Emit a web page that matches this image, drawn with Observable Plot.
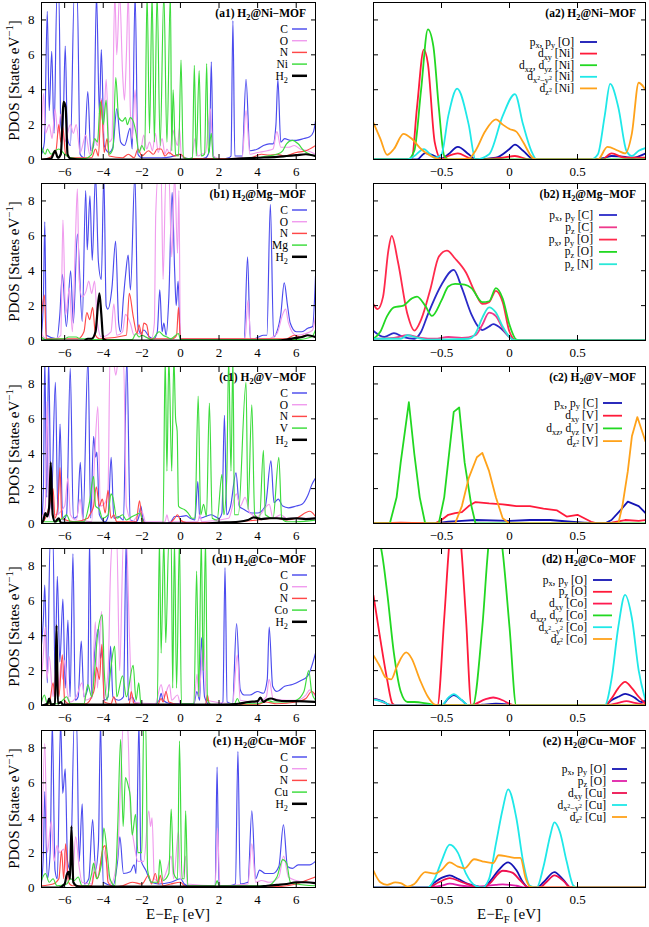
<!DOCTYPE html>
<html><head><meta charset="utf-8">
<script src="https://cdn.jsdelivr.net/npm/d3@7"></script>
<script src="https://cdn.jsdelivr.net/npm/@observablehq/plot@0.6"></script>
<style>
body{margin:0;background:#fff;}
#chart{position:relative;width:649px;height:927px;font-family:"Liberation Serif","Times New Roman",serif;background:#fff;}
</style></head><body><div id="chart"></div>
<script>
// ---------- categories / labels ----------
const metals = ["Ni","Mg","V","Co","Cu"];
const rowLetters = ["a","b","c","d","e"];
const leftXTicks = [-6,-4,-2,0,2,4,6];
const rightXTicks = [-0.5,0,0.5];
const yTicks = [0,2,4,6,8];
const leftLabels = m => ["C","O","N",m,"H_{2}"];

// ---------- (a1) Ni-MOF : [x, y, x, y, ...] ----------
const a1_C = [-7.2,0.3,-7.05,1,-6.9,8.5,-6.8,2.8,-6.67,6.2,-6.55,1.5,-6.4,9.5,-6.3,9.5,-6.2,2,-6.1,1.5,-5.97,6.5,-5.85,1.2,-5.7,0.8,-5.5,9.5,-5.35,9.5,-5.2,0.3,-5.0,0.1,-4.8,3.9,-4.65,0.5,-4.5,0.8,-4.35,9.5,-4.2,2.6,-4.1,6.3,-3.95,0.8,-3.7,0.4,-3.5,0.7,-3.3,2.9,-3.1,1.0,-2.9,0.8,-2.6,1.8,-2.5,0.6,-2.35,9.5,-2.2,0.3,-2.0,0.1,-1.5,0.1,-1.0,0.1,-0.5,0.15,0,0.3,0.2,0.1,0.6,0.05,1.0,0.05,1.3,0.1,1.5,0.5,1.6,5.6,1.7,0.2,2.0,0,2.5,0.1,2.62,0.2,2.72,7.95,2.82,0.2,3.2,0.2,3.4,4.6,3.6,0.5,4.0,0.6,4.3,0.8,4.6,0.9,4.8,0.9,4.95,2,5.05,4.6,5.2,1.0,5.4,1.2,5.7,1.1,6.0,1.1,6.4,1.2,6.7,1.3,6.9,1.6,7.0,2.2];
const a1_O = [-7.2,1.0,-7.1,3.8,-7.0,1.5,-6.8,2.0,-6.65,1.2,-6.5,2.9,-6.35,1.5,-6.2,2.6,-6.0,1.0,-5.7,2.0,-5.55,1.5,-5.4,2.0,-5.2,0.4,-4.9,1.4,-4.7,0.3,-4.45,1.2,-4.3,0.8,-4.1,3.5,-4.0,1.5,-3.85,4.6,-3.7,1.0,-3.55,1.2,-3.4,9.5,-3.3,6,-3.15,9.5,-3.0,5,-2.9,3.4,-2.8,6,-2.7,9.5,-2.6,3,-2.5,1.2,-2.35,4.0,-2.2,0.5,-2.05,0.6,-1.9,1.4,-1.75,0.6,-1.6,1.0,-1.45,0.5,-1.3,1.5,-1.15,0.4,-0.95,1.2,-0.8,0.3,-0.7,0.6,-0.55,0.3,-0.4,1.7,-0.3,1.3,-0.15,0.8,-0.05,1.8,0.05,0.2,0.3,0.05,0.6,0.1,0.75,1.2,0.9,0.2,1.1,0.3,1.3,0.4,1.55,2.9,1.7,0.2,2.0,0.05,3.2,0.1,3.4,2.8,3.6,0.3,4.0,0.4,4.5,0.5,4.8,0.6,5.0,1.6,5.2,0.7,5.6,0.7,5.9,0.8,6.2,0.6,6.6,0.5,7.0,0.3];
const a1_N = [-7.2,0,-6.8,0.1,-6.6,0.3,-6.45,0.5,-6.3,2.0,-6.2,1.0,-6.1,1.9,-5.95,0.3,-5.7,0.1,-4.6,0.1,-4.4,0.6,-4.25,0.2,-4.1,3.4,-3.95,0.4,-3.8,1.2,-3.7,0.2,-3.0,0.1,-2.7,0.3,-2.4,0.1,-2.2,0.6,-2.0,0.2,-1.65,0.5,-1.4,0.3,-1.2,0.6,-1.0,0.6,-0.8,0.2,-0.6,0.4,-0.3,0.2,0,0.3,0.3,0.05,3.5,0.05,4.2,0.3,4.6,0.25,5.0,0.3,5.4,0.2,6.0,0.4,6.5,0.5,7.0,0.8];
const a1_M = [-7.2,0.7,-7.0,0.3,-6.9,0.6,-6.7,0.3,-6.5,0.5,-6.3,0.6,-6.0,0.3,-5.7,0.1,-5.0,0.05,-4.6,0.3,-4.45,1.2,-4.3,1.0,-4.15,3.3,-4.0,2.0,-3.85,3.4,-3.7,0.3,-3.5,0.6,-3.35,4.7,-3.2,2.4,-3.0,2.2,-2.85,2.4,-2.75,2.0,-2.6,2.4,-2.45,2.2,-2.3,1.5,-2.15,0.4,-2.0,0.8,-1.85,0.5,-1.73,9.5,-1.6,1.5,-1.47,9.5,-1.35,1.0,-1.21,9.5,-1.05,0.8,-0.86,9.5,-0.7,1.0,-0.52,9.5,-0.45,0.5,-0.38,4.0,-0.25,0.3,-0.1,0.2,0.03,5.7,0.15,0.1,0.5,0.05,0.62,0.1,0.72,5.4,0.82,0.2,0.97,5.1,1.08,0.2,1.25,0.3,1.36,5.5,1.45,0.3,1.6,1.5,1.7,0.1,2.0,0,3.4,0.05,4.0,0.1,4.5,0.2,5.0,0.3,5.3,0.5,5.5,0.9,5.8,1.1,6.1,0.9,6.4,0.5,6.7,0.3,7.0,0.2];
const a1_H2 = [-7.2,0,-6.7,0.05,-6.5,0.5,-6.35,0.1,-6.2,0.3,-6.05,3.3,-5.95,3.0,-5.85,0.3,-5.7,0.05,-5.0,0,2.0,0,3.0,0.05,4.0,0.1,5.0,0.15,5.5,0.2,6.0,0.25,6.5,0.3,7.0,0.2];

// ---------- (b1) Mg-MOF ----------
const b1_C = [-7.2,0.3,-7.1,2.5,-7.03,6.8,-6.95,0.3,-6.4,0.1,-6.25,1.5,-6.12,3.8,-5.91,0.8,-5.69,4.0,-5.55,1.0,-5.34,6.1,-5.09,1.1,-4.91,8.6,-4.83,5.2,-4.69,8.3,-4.57,4.6,-4.4,9.5,-4.25,4.5,-4.1,3.5,-3.97,9.5,-3.85,2.0,-3.76,1.8,-3.55,3.0,-3.36,5.7,-3.2,1.0,-3.1,0.5,-2.95,2.5,-2.84,3.8,-2.71,4.9,-2.59,2.9,-2.36,9.5,-2.2,0.8,-2.05,0.4,-1.9,0.6,-1.6,0.2,-1.38,0.1,-1.2,0.5,-1.07,2.9,-0.95,0.5,-0.86,1.0,-0.74,0.3,-0.6,2.5,-0.43,8.5,-0.3,4.0,-0.22,2.0,-0.12,3.4,0,0.05,3.3,0.05,3.48,4.8,3.62,0.1,3.8,0.1,4.05,0.2,4.3,0.3,4.48,0.3,4.66,7.8,4.83,0.2,5.0,0.5,5.2,1.5,5.38,3.3,5.55,2.0,5.69,1.0,6.0,0.5,6.3,0.5,6.6,0.7,6.85,0.8,7.0,3.7];
const b1_O = [-7.2,0.5,-7.1,0.2,-6.9,0.1,-6.5,0.1,-6.2,0.3,-6.09,6.9,-5.95,1.5,-5.75,3.0,-5.6,0.5,-5.45,5.5,-5.34,8.7,-5.25,3.5,-5.1,2.5,-4.9,2.8,-4.75,3.4,-4.6,2.7,-4.45,3.4,-4.3,1.0,-4.1,0.2,-3.6,0.5,-3.45,2.1,-3.3,0.3,-3.0,0.5,-2.85,1.5,-2.6,1.0,-2.4,0.3,-2.2,0.4,-1.5,0.1,-1.35,1.0,-1.28,7.2,-1.15,9.5,-1.0,9.5,-0.9,3.5,-0.75,9.5,-0.6,9.5,-0.45,4.8,-0.3,9.5,-0.15,5.0,-0.08,8.6,0,0.1,3.35,0.1,3.5,2.3,3.65,0.1,4.5,0.1,5.0,0.4,5.3,1.5,5.45,1.8,5.6,1.0,6.0,0.3,6.5,0.4,6.85,0.6,7.0,1.4];
const b1_N = [-7.2,1.5,-7.05,2.6,-6.95,0.1,-6.0,0.1,-5.3,0.1,-5.0,0.5,-4.85,1.6,-4.7,1.2,-4.55,1.9,-4.4,0.3,-4.2,0.1,-2.8,0.3,-2.65,2.7,-2.45,1.4,-2.25,0.4,-2.15,0.9,-2.0,0.3,-1.9,1.0,-1.75,0.9,-1.6,0.1,-0.4,0.1,-0.2,0.3,-0.1,1.9,0,0.1,5.5,0.1,5.9,0.3,6.2,0.2,6.5,0.3,7.0,0.2];
const b1_M = [-7.2,0.2,-7.0,0.05,-6.2,0.1,-6.0,0.1,-5.8,0.2,-5.4,0.2,-5.2,0.1,-4.8,0.1,-4.5,0.05,-2.5,0.05,-2.3,0.4,-2.15,0.2,-2.0,0.3,-1.8,0.2,-1.5,0.05,-1.1,0.5,-0.9,0.3,-0.7,0.2,-0.5,0.1,-0.1,0.4,0,0.05,6.0,0.05,6.8,0.2,7.0,0.6];
const b1_H2 = [-7.2,0,-5.0,0,-4.8,0.1,-4.6,0.1,-4.4,0.5,-4.2,2.7,-4.1,1.5,-4.0,0.1,-3.8,0,5.0,0,5.5,0.05,6.0,0.15,6.3,0.2,6.6,0.3,7.0,0.2];

// ---------- (c1) V-MOF ----------
const c1_C = [-7.2,0,-7.1,2,-7.03,9.5,-6.93,1.5,-6.83,9.5,-6.7,0.8,-6.48,8.1,-6.35,0.5,-6.24,5.7,-6.1,0.2,-5.9,0.5,-5.71,8.9,-5.55,0.3,-5.35,0.4,-5.19,3.5,-5.05,0.2,-4.79,9.5,-4.65,0.3,-4.5,5.0,-4.4,3.8,-4.33,4.1,-4.2,0.5,-3.9,0.1,-3.75,0.4,-3.59,3.8,-3.45,0.3,-3.2,0.4,-2.95,0.2,-2.78,9.5,-2.6,0.2,-2.3,0.1,-2.15,0.4,-2.05,1.0,-1.95,0.3,-1.8,0,-0.8,0,-0.5,0.1,-0.3,0.4,0,0.4,0.3,0.45,0.5,0.3,0.75,0.2,0.9,2.4,1.0,0.3,1.3,0.4,1.6,0.5,2.0,0.3,2.15,0.6,2.28,6.2,2.4,0.5,2.6,1.0,2.88,2.9,3.05,1.0,3.3,0.8,3.7,0.6,4.0,0.6,4.4,1.0,4.69,3.6,4.85,1.2,5.07,1.4,5.3,1.0,5.6,0.9,6.0,1.0,6.3,1.1,6.6,1.6,6.8,2.2,7.0,2.6];
const c1_O = [-7.2,0.3,-7.0,1.0,-6.91,7.0,-6.8,0.3,-6.7,2.0,-6.5,0.5,-6.0,1.0,-5.83,2.6,-5.7,0.5,-5.4,0.2,-5.2,1.4,-5.05,0.2,-4.6,0.1,-4.45,3.7,-4.28,6.7,-4.15,1.0,-3.9,1.2,-3.75,2.0,-3.65,9.5,-3.5,9.5,-3.35,8.5,-3.2,9.5,-2.95,9.5,-2.8,1.0,-2.5,0.1,-2.2,0.5,-2.0,0.7,-1.8,0.1,-0.8,0.1,-0.7,0.5,-0.6,0.1,0.9,0.1,1.0,0.5,1.1,0.1,2.5,0.3,2.9,1.7,3.1,1.0,3.35,1.5,3.6,0.6,4.0,0.4,4.6,1.1,4.8,0.3,5.2,0.5,5.5,0.3,6.0,0.3,7.0,0.3];
const c1_N = [-7.2,0,-7.0,0.3,-6.8,1.0,-6.6,2.0,-6.5,0.3,-6.35,1.0,-6.24,3.2,-6.15,0.3,-5.5,0.1,-4.8,0.3,-4.7,0.5,-4.5,1.0,-4.36,2.1,-4.2,1.0,-4.05,1.4,-3.9,0.6,-3.75,1.9,-3.6,0.3,-3.45,0.5,-3.3,0.1,-2.3,0.1,-2.12,1.3,-2.0,0.3,-1.8,0,-0.6,0,-0.3,0.3,-0.15,0.5,0,0.2,0.3,0.05,2.5,0.05,3.0,0.1,4.0,0.2,5.0,0.3,5.5,0.2,6.0,0.3,6.7,0.7,7.0,0.4];
const c1_M = [-7.2,0.1,-6.5,0.1,-6.1,0.3,-5.9,0.5,-5.7,0.1,-5.0,0.1,-4.7,1.3,-4.5,2.7,-4.4,1.0,-4.2,0.8,-4.05,0.3,-3.75,0.5,-3.6,1.7,-3.5,1.5,-3.3,0.3,-3.0,0.5,-2.8,0.2,-2.5,0.4,-2.3,0.5,-2.1,0.6,-1.9,0,-0.9,0,-0.79,9.5,-0.7,3.0,-0.6,9.5,-0.45,3.0,-0.34,9.5,-0.25,6.0,-0.17,5.3,-0.1,1.0,0,0.9,0.2,0.8,0.4,0.6,0.6,0.3,0.75,0.3,0.92,7.3,1.05,0.5,1.2,1.1,1.35,0.4,1.5,6.9,1.65,0.3,1.9,0.2,2.15,2.8,2.25,0.5,2.4,2.6,2.5,9.5,2.62,3.0,2.72,9.5,2.8,0.5,3.0,0.5,3.4,8.1,3.5,0.8,3.7,6.8,3.85,0.5,4.1,0.3,4.3,4.2,4.4,0.5,4.8,0.3,5.1,3.8,5.25,0.3,5.5,0.1,6.0,0.1,7.0,0.2];
const c1_H2 = [-7.2,0,-7.1,0.2,-7.0,0.6,-6.9,0.4,-6.8,1.0,-6.72,3.5,-6.62,0.5,-6.5,0.1,-6.3,0.3,-6.2,0.05,1.0,0,2.0,0.05,3.0,0.1,3.5,0.2,3.8,0.35,4.2,0.25,4.6,0.3,5.0,0.3,5.5,0.25,6.0,0.3,6.5,0.25,7.0,0.3];

// ---------- (d1) Co-MOF ----------
const d1_C = [-7.2,3.5,-7.1,5.0,-7.03,6.9,-6.9,1.3,-6.75,9.5,-6.6,9.5,-6.5,1.5,-6.38,7.4,-6.25,2.5,-6.09,6.1,-5.97,1.0,-5.83,4.9,-5.72,0.5,-5.57,8.7,-5.45,0.3,-5.3,0.5,-5.14,3.7,-5.0,0.5,-4.8,1.0,-4.71,9.5,-4.6,0.4,-4.45,3.0,-4.24,4.4,-4.15,2.7,-4.05,3.2,-3.95,0.3,-3.75,0.5,-3.62,3.4,-3.5,0.5,-3.2,0.3,-2.95,0.5,-2.81,9.5,-2.7,0.3,-2.5,0.5,-2.3,0.1,-1.5,0,-1.1,0.3,-1.0,0.7,-0.9,0.3,-0.5,0.1,0,0.1,0.7,0.1,0.85,0.8,1.0,0.3,1.09,3.9,1.25,0.5,1.5,0.05,2.0,0.05,2.2,0.2,2.31,7.9,2.42,0.2,2.7,0.1,2.91,4.7,3.1,0.9,3.3,0.6,3.6,0.6,4.0,0.8,4.3,0.7,4.5,1.5,4.6,4.5,4.78,1.1,5.0,0.8,5.4,1.1,5.8,1.2,6.2,1.4,6.6,1.7,7.0,3.0];
const d1_O = [-7.2,1.5,-7.1,3.0,-7.0,4.5,-6.92,1.5,-6.8,2.8,-6.6,0.5,-6.45,2.3,-6.3,1.0,-6.2,2.4,-6.1,1.5,-6.0,2.6,-5.85,0.7,-5.7,0.2,-5.4,0.5,-5.1,1.3,-4.95,0.3,-4.6,0.5,-4.41,4.8,-4.3,1.0,-4.09,5.4,-3.95,0.5,-3.75,2.0,-3.62,7.8,-3.5,9.5,-3.3,9.5,-3.15,2.0,-2.95,9.5,-2.8,9.5,-2.64,3.9,-2.5,0.2,-1.3,0.1,-1.0,1.2,-0.85,0.5,-0.57,1.2,-0.45,0.3,-0.15,0.6,0,0.1,0.7,0.1,0.86,1.8,0.95,0.5,1.2,3.8,1.35,0.3,2.7,0.1,2.95,2.9,3.1,0.3,4.0,0.2,4.45,0.5,4.6,1.5,4.8,0.4,5.5,0.3,6.0,0.3,6.5,0.6,6.7,0.9,7.0,0.5];
const d1_N = [-7.2,0,-6.8,0.1,-6.6,1.3,-6.5,0.5,-6.4,2.4,-6.3,0.5,-6.12,2.9,-6.0,0.3,-5.8,0.1,-4.9,0.1,-4.6,0.5,-4.45,1.0,-4.35,2.2,-4.2,1.5,-4.07,3.5,-3.95,0.2,-3.6,0.1,-3.45,0.5,-3.3,0.05,-2.65,0.1,-2.55,0.8,-2.4,0.1,-1.2,0,-1.0,0.4,-0.9,0.2,-0.75,0.8,-0.6,0.2,0,0.05,1.3,0.05,1.4,0.6,1.5,0.05,4.0,0.05,4.4,0.2,5.0,0.1,6.0,0.2,6.5,0.4,6.8,0.8,7.0,0.6];
const d1_M = [-7.2,0.2,-7.05,0.6,-6.9,0.1,-6.3,0.1,-6.1,0.3,-5.9,0.5,-5.7,0.1,-5.0,0.1,-4.8,1.2,-4.6,0.5,-4.45,1.9,-4.3,4.0,-4.05,5.2,-3.95,2.0,-3.8,0.3,-3.6,2.2,-3.41,3.4,-3.3,0.5,-3.0,1.7,-2.8,0.5,-2.45,2.3,-2.3,0.3,-2.16,1.3,-2.05,0.1,-1.9,0,-1.2,0,-1.09,9.5,-1.0,3.0,-0.86,9.5,-0.76,3.6,-0.6,9.5,-0.48,9.5,-0.4,1.0,-0.31,9.5,-0.2,1.0,-0.05,9.5,0.05,0.1,0.7,0.1,0.84,7.7,0.95,0.5,1.08,9.5,1.18,2.0,1.3,9.5,1.4,0.3,1.6,0.05,2.8,0.1,2.95,0.4,3.1,0.1,4.0,0.1,4.5,0.3,4.8,0.2,5.5,0.2,6.0,0.3,6.4,0.8,6.65,2.0,6.8,0.8,7.0,0.3];
const d1_H2 = [-7.2,0,-6.9,0.1,-6.8,0.4,-6.7,0.05,-6.5,0.1,-6.42,4.6,-6.35,0.1,-6.2,0.2,-6.1,0.05,2.0,0.05,3.0,0.1,3.5,0.2,4.0,0.25,4.15,0.45,4.3,0.2,4.5,0.35,4.7,0.4,5.0,0.3,5.5,0.25,6.0,0.25,7.0,0.2];

// ---------- (e1) Cu-MOF ----------
const e1_C = [-7.2,0.3,-7.1,2.0,-7.03,5.5,-6.9,0.5,-6.75,2,-6.64,9.5,-6.5,1.0,-6.38,0.5,-6.21,9.5,-6.1,5.4,-5.97,6.8,-5.85,1.5,-5.7,1.0,-5.5,9.5,-5.38,9.5,-5.25,1.5,-5.09,4.8,-4.98,0.2,-4.75,0.5,-4.55,3.9,-4.4,1.0,-4.25,2.5,-4.14,9.5,-4.0,0.3,-3.5,0.1,-3.25,1.6,-3.14,2.9,-2.95,0.8,-2.6,0.9,-2.4,1.3,-2.3,0.8,-2.15,9.5,-2.05,1.6,-1.8,1.0,-1.5,0.3,-1.1,0.2,-0.5,0.3,0,0.5,0.2,0.2,0.5,0.05,1.7,0.05,1.8,0.1,1.9,6.9,2.0,0.1,2.5,0.1,2.85,0.2,2.98,7.8,3.1,0.2,3.5,0.3,3.7,4.4,3.9,0.5,4.1,1.0,4.4,0.8,4.8,0.8,5.1,1.2,5.34,3.6,5.55,1.2,5.8,1.1,6.1,1.3,6.4,1.3,6.7,1.3,7.0,1.5];
const e1_O = [-7.2,1.0,-7.03,8.25,-6.9,2.0,-6.69,3.8,-6.55,1.5,-6.4,2.4,-6.25,2.0,-6.05,2.2,-5.85,0.5,-5.6,0.5,-5.43,2.9,-5.25,1.2,-5.1,0.3,-4.6,0.2,-4.45,1.5,-4.3,0.5,-4.0,2.2,-3.85,1.5,-3.6,0.2,-3.25,2.0,-3.1,6.0,-2.95,9.5,-2.75,9.5,-2.6,4.5,-2.4,2.5,-2.2,1.5,-1.9,1.5,-1.64,4.4,-1.55,3.5,-1.47,4.0,-1.35,0.5,-1.0,0.3,-0.7,1.0,-0.48,1.8,-0.35,0.5,-0.1,3.2,0,0.5,0.1,0.5,0.26,1.8,0.35,0.2,1.8,0.1,1.92,3.4,2.05,0.1,3.5,0.2,3.7,2.5,3.9,0.3,4.2,0.4,4.6,0.3,5.1,0.6,5.35,1.8,5.6,0.6,6.0,0.4,6.5,0.3,7.0,0.3];
const e1_N = [-7.2,0.1,-6.6,0.2,-6.3,0.5,-6.16,2.1,-6.05,0.5,-5.95,2.5,-5.8,0.3,-5.6,0.1,-4.6,0.1,-4.45,0.9,-4.3,0.5,-4.0,2.3,-3.9,2.4,-3.75,0.3,-3.5,0.05,-3.0,0.1,-2.5,0.3,-2.0,0.2,-1.65,0.7,-1.5,0.2,-1.3,0.8,-1.15,0.2,-1.05,0.7,-0.9,0.1,-0.5,0.2,0,0.3,0.2,0.1,0.5,0,5.0,0.05,6.0,0.2,6.5,0.4,7.0,0.6];
const e1_M = [-7.2,0.4,-7.0,0.8,-6.8,0.3,-6.6,0.5,-6.4,0.1,-5.9,0.2,-5.7,0.5,-5.5,0.4,-5.3,0.6,-5.1,0.1,-4.8,0.1,-4.6,0.8,-4.5,1.4,-4.35,0.5,-4.1,1.3,-3.97,3.4,-3.8,2.0,-3.65,0.5,-3.4,0.1,-3.25,3.5,-3.1,8.5,-2.97,3.5,-2.85,6.3,-2.7,5.8,-2.6,5.2,-2.5,3.0,-2.33,4.2,-2.2,2.0,-2.0,2.0,-1.9,9.5,-1.8,9.5,-1.7,1.0,-1.5,0.3,-1.15,0.3,-1.07,1.6,-0.9,0.4,-0.6,0.8,-0.48,4.5,-0.35,0.8,-0.15,0.5,-0.05,8.4,0.08,0.5,0.2,0.5,0.27,4.4,0.38,0.1,1.8,0.1,1.9,0.4,2.0,0.1,4.5,0.1,5.0,0.6,5.3,1.6,5.5,1.4,5.7,0.3,6.0,0.2,7.0,0.1];
const e1_H2 = [-7.2,0,-6.3,0,-6.0,0.2,-5.9,0.7,-5.8,0.9,-5.72,0.5,-5.65,3.5,-5.55,0.3,-5.4,0.1,-5.2,0.05,4.0,0.05,4.5,0.1,5.0,0.15,5.5,0.2,6.0,0.3,6.5,0.3,7.0,0.25];

// ---------- right column (orbital-resolved) ----------
const a2_pxpyO = [-1,0,-0.68,0,-0.62,0.37,-0.55,0.2,-0.5,0.05,-0.45,0.3,-0.38,0.72,-0.3,0.3,-0.25,0,-0.1,0.1,0,0.6,0.04,0.85,0.1,0.5,0.18,0,0.6,0,0.7,0.1,0.75,0.2,0.85,0.15,0.9,0.1,1.0,0.35];
const a2_dxy = [-1,0,-0.72,0,-0.68,3.0,-0.63,6.3,-0.6,5.5,-0.55,1.0,-0.5,0,-0.45,0.2,-0.38,0.35,-0.3,0.1,-0.25,0,-0.05,0.1,0.04,0.2,0.15,0,0.68,0,0.75,0.35,0.85,0.1,1.0,0.1];
const a2_dxz = [-1,0,-0.75,0,-0.7,0.5,-0.65,4.0,-0.6,7.46,-0.56,6.5,-0.52,3.0,-0.48,0.2,-0.45,0,1,0];
const a2_dx2 = [-1,0,-0.75,0,-0.7,0.2,-0.63,0.6,-0.55,0.1,-0.5,0.3,-0.45,2.5,-0.385,4.06,-0.3,2.0,-0.25,0,-0.15,0.3,-0.05,2.5,0.04,3.75,0.1,2.0,0.16,0.5,0.2,0,0.6,0,0.65,0.3,0.7,2.5,0.74,4.33,0.8,3.0,0.86,0.5,0.9,0.2,0.95,0.5,1.0,0.65];
const a2_dz2 = [-1,2.1,-0.95,1.2,-0.9,0.27,-0.85,0.6,-0.78,1.47,-0.72,1.2,-0.65,0.6,-0.6,0.3,-0.55,0.1,-0.5,0,-0.3,0.05,-0.25,0.5,-0.18,1.6,-0.1,2.3,-0.05,2.0,0,1.75,0.05,1.6,0.1,1.0,0.17,0.1,0.2,0,0.65,0,0.72,0.72,0.8,0.5,0.85,0.35,0.9,1.5,0.95,4.4,1.0,4.0];

const b2_pxpyC = [-1,0.55,-0.92,0.2,-0.85,0.42,-0.78,0.2,-0.7,0.1,-0.65,0.5,-0.6,1.5,-0.5,3.2,-0.41,4.05,-0.35,3.0,-0.28,1.5,-0.22,0.7,-0.2,0.6,-0.15,0.8,-0.12,0.94,-0.05,0.6,0,0.2,0.05,0,1,0];
const b2_pzC = [-1,0.1,-0.85,0.15,-0.75,0.3,-0.65,0.15,-0.55,0.1,-0.45,0.2,-0.35,0.15,-0.25,0.3,-0.2,0.9,-0.15,1.6,-0.1,1.4,-0.05,0.7,0,0.2,0.05,0,1,0];
const b2_pxpyO = [-1,2.08,-0.97,1.8,-0.93,2.5,-0.89,5.2,-0.866,6.0,-0.82,4.5,-0.75,1.5,-0.7,0.57,-0.65,1.2,-0.58,3.0,-0.52,4.8,-0.46,5.15,-0.4,4.7,-0.32,3.9,-0.25,2.7,-0.2,2.1,-0.15,2.2,-0.1,2.85,-0.05,2.2,0,0.5,0.05,0,1,0];
const b2_pzO = [-1,0.1,-0.95,0.5,-0.9,1.4,-0.85,1.9,-0.78,2.0,-0.72,2.4,-0.68,2.52,-0.62,2.0,-0.57,1.41,-0.5,2.3,-0.45,3.1,-0.4,3.25,-0.33,3.2,-0.28,3.0,-0.2,2.2,-0.15,2.25,-0.1,3.0,-0.05,2.4,0,0.9,0.05,0.05,0.08,0,1,0];
const b2_pzN = [-1,0.1,-0.8,0.1,-0.75,0.3,-0.7,0.2,-0.6,0.05,-0.3,0.1,-0.25,0.4,-0.2,1.3,-0.15,1.9,-0.1,1.6,-0.05,0.8,0,0.2,0.05,0,1,0];

const c2_pxpyC = [-1,0,-0.55,0,-0.45,0.1,-0.35,0.15,-0.25,0.2,0,0.15,0.15,0.2,0.3,0.2,0.45,0.1,0.55,0.05,0.7,0,0.75,0.2,0.82,0.8,0.87,1.25,0.95,1.0,1.0,0.6];
const c2_dxy = [-1,0,-0.8,0.05,-0.55,0,-0.5,0.2,-0.45,0.5,-0.4,0.6,-0.35,0.65,-0.3,1.0,-0.25,1.23,-0.15,1.15,-0.05,1.1,0.05,1.0,0.15,1.0,0.25,0.85,0.35,0.75,0.42,0.4,0.5,0.5,0.55,0.3,0.6,0.1,0.65,0,0.75,0.05,0.85,0.2,0.95,0.15,1.0,0.2];
const c2_dxz = [-1,0,-0.88,0,-0.83,1.5,-0.8,3.5,-0.74,6.95,-0.7,4.0,-0.66,1.5,-0.62,0,-0.52,0,-0.48,1.5,-0.41,6.4,-0.37,6.65,-0.33,3.5,-0.28,1.0,-0.25,0,1,0];
const c2_dz2 = [-1,0,-0.4,0,-0.35,1.0,-0.3,2.6,-0.24,3.8,-0.2,4.05,-0.15,3.0,-0.1,1.5,-0.05,0.3,0,0,0.8,0,0.83,1.0,0.87,3.0,0.9,5.0,0.94,6.1,1.0,4.7];

const d2_pxpyO = [-1,0.4,-0.92,0.2,-0.88,0,-0.5,0,-0.45,0.4,-0.41,0.6,-0.35,0.3,-0.3,0,-0.2,0.05,-0.1,0.1,0,0.05,0.05,0,0.7,0,0.75,0.3,0.8,0.5,0.85,0.67,0.92,0.45,0.97,0.2,1.0,0.3];
const d2_pzO = [-1,6.3,-0.95,3.8,-0.9,1.5,-0.86,0.1,-0.83,0,-0.53,0,-0.48,5.0,-0.44,9.5,-0.4,11,-0.36,9.5,-0.32,5.0,-0.28,0,0.7,0,0.75,0.4,0.8,1.0,0.85,1.35,0.9,1.0,0.95,0.5,1.0,0.1];
const d2_dxy = [-1,0.4,-0.9,0.1,-0.85,0,-0.3,0,-0.25,0.1,-0.18,0.35,-0.12,0.46,-0.05,0.3,0,0.1,0.05,0,0.7,0,0.8,0.15,0.86,0.25,0.92,0.15,1.0,0.05];
const d2_dxz = [-1,11,-0.97,9.5,-0.95,9.2,-0.9,6.5,-0.85,3.0,-0.8,0.8,-0.75,0.2,-0.7,0.2,-0.6,0.1,-0.52,0,-0.27,0,-0.2,4.5,-0.15,9.5,-0.1,11,-0.06,9.5,0,4.5,0.05,0,1,0];
const d2_dx2 = [-1,0.35,-0.9,0.1,-0.88,0,-0.5,0,-0.45,0.45,-0.41,0.65,-0.35,0.3,-0.3,0,0.7,0,0.75,1.5,0.8,4.5,0.85,6.34,0.9,5.0,0.95,2.0,1.0,0.3];
const d2_dz2 = [-1,2.87,-0.95,2.2,-0.91,1.6,-0.87,1.5,-0.83,2.2,-0.76,3.04,-0.72,2.7,-0.66,1.5,-0.6,0.5,-0.55,0.05,-0.52,0,1,0];

const e2_pxpyO = [-1,0,-0.6,0,-0.55,0.3,-0.5,0.55,-0.44,0.7,-0.38,0.5,-0.3,0.2,-0.25,0.1,-0.2,0,-0.15,0.3,-0.08,1.0,-0.01,1.44,0.05,1.0,0.1,0.3,0.14,0,0.2,0,0.25,0.3,0.33,0.88,0.4,0.4,0.45,0,1,0];
const e2_pzO = [-1,0,-0.6,0,-0.5,0.1,-0.44,0.22,-0.35,0.1,-0.25,0.05,-0.1,0.15,-0.05,0.18,0.05,0.1,0.12,0,1,0];
const e2_dxy = [-1,0,-0.6,0,-0.52,0.3,-0.44,0.54,-0.35,0.3,-0.25,0.05,-0.2,0,-0.15,0.2,-0.05,0.96,0.02,0.85,0.08,0.4,0.14,0,0.22,0,0.27,0.3,0.33,0.69,0.4,0.35,0.45,0,1,0];
const e2_dx2 = [-1,0,-0.6,0,-0.55,0.5,-0.5,1.5,-0.44,2.46,-0.38,2.0,-0.32,0.8,-0.25,0.1,-0.2,0,-0.15,0.5,-0.1,2.5,-0.05,4.5,-0.01,5.63,0.05,4.0,0.1,1.5,0.15,0.1,0.2,0,0.25,1.2,0.3,3.0,0.33,3.73,0.37,3.2,0.42,1.5,0.47,0.1,0.5,0,1,0];
const e2_dz2 = [-1,0.96,-0.95,0.3,-0.9,0.15,-0.84,0.29,-0.8,0.25,-0.75,0.05,-0.7,0.2,-0.62,0.88,-0.55,0.8,-0.5,1.0,-0.44,1.44,-0.38,1.2,-0.33,1.1,-0.26,1.62,-0.2,1.5,-0.12,1.4,-0.08,1.85,0,1.75,0.05,1.7,0.08,1.7,0.12,0.5,0.15,0.05,0.2,0,1,0];

// ---------- panel tables built from the arrays ----------
const leftData = [
  [a1_C,a1_O,a1_N,a1_M,a1_H2],
  [b1_C,b1_O,b1_N,b1_M,b1_H2],
  [c1_C,c1_O,c1_N,c1_M,c1_H2],
  [d1_C,d1_O,d1_N,d1_M,d1_H2],
  [e1_C,e1_O,e1_N,e1_M,e1_H2]
];
const leftColors = ["#4b4bee","#f09cee","#ff4848","#3cdc3c","#000000"];
const leftWidths = [1.15,1.15,1.15,1.15,2.2];

const NAVY="#1414b4", RED="#ff1a3a", GREEN="#22d822", CYAN="#1fe8e8", ORANGE="#ffa21a";
const rightPanels = [
  {data:[a2_pxpyO,a2_dxy,a2_dxz,a2_dx2,a2_dz2],
   labels:["p_{x}, p_{y} [O]","d_{xy} [Ni]","d_{xz}, d_{yz} [Ni]","d_{x^{2}−y^{2}} [Ni]","d_{z^{2}} [Ni]"],
   colors:[NAVY,RED,GREEN,CYAN,ORANGE], curve:"monotone-x",
   key:{first:40, step:11.6, textRight:574, line:[580,597]}},
  {data:[b2_pxpyC,b2_pzC,b2_pxpyO,b2_pzO,b2_pzN],
   labels:["p_{x}, p_{y} [C]","p_{z} [C]","p_{x}, p_{y} [O]","p_{z} [O]","p_{z} [N]"],
   colors:["#2a2ac8","#ee3a8c","#ff2a4c",GREEN,"#2ae8d8"], curve:"monotone-x",
   key:{first:32, step:12.3, textRight:593, line:[599,617]}},
  {data:[c2_pxpyC,c2_dxy,c2_dxz,c2_dz2],
   labels:["p_{x}, p_{y} [C]","d_{xy} [V]","d_{xz}, d_{yz} [V]","d_{z^{2}} [V]"],
   colors:[NAVY,RED,GREEN,ORANGE], curve:"linear",
   key:{first:37, step:12.7, textRight:598, line:[603,622]}},
  {data:[d2_pxpyO,d2_pzO,d2_dxy,d2_dxz,d2_dx2,d2_dz2],
   labels:["p_{x}, p_{y} [O]","p_{z} [O]","d_{xy} [Co]","d_{xz}, d_{yz} [Co]","d_{x^{2}−y^{2}} [Co]","d_{z^{2}} [Co]"],
   colors:[NAVY,RED,"#ff1a50",GREEN,CYAN,ORANGE], curve:"monotone-x",
   key:{first:32, step:11.8, textRight:587, line:[593,612]}},
  {data:[e2_pxpyO,e2_pzO,e2_dxy,e2_dx2,e2_dz2],
   labels:["p_{x}, p_{y} [O]","p_{z} [O]","d_{xy} [Cu]","d_{x^{2}−y^{2}} [Cu]","d_{z^{2}} [Cu]"],
   colors:[NAVY,"#e020a8","#ee1050",CYAN,ORANGE], curve:"monotone-x",
   key:{first:39, step:12, textRight:606, line:[612,627]}}
];

// ---------- layout ----------
const FONT = '"Liberation Serif","Times New Roman",serif';
const rowTops = [2,183,366,548,730];
const FH = 157, MT = 4, MB = 24;
const L = {left:0, width:330, ml:41, mr:15};
const R = {left:340, width:309, ml:33, mr:4};
const chart = document.getElementById("chart");
const pairs = a => { const o = []; for (let i = 0; i < a.length; i += 2) o.push({x:a[i], y:a[i+1]}); return o; };
const fmtTick = d => d < 0 ? "\u2212" + Math.abs(d) : String(d);
const blank = () => "";

function panel({data, colors, widths, xDomain, xTicks, showY, geom, curve}) {
  const marks = data.map((d, i) => Plot.line(pairs(d), {x:"x", y:"y", stroke:colors[i], strokeWidth:widths[i], curve, clip:true}));
  marks.push(
    Plot.frame({stroke:"#000", strokeWidth:1}),
    Plot.axisX({anchor:"bottom", ticks:xTicks, tickSize:-5, tickPadding:12, tickFormat:fmtTick, label:null, fontSize:13}),
    Plot.axisX({anchor:"top", ticks:xTicks, tickSize:-5, tickFormat:blank, label:null}),
    Plot.axisY({anchor:"left", ticks:yTicks, tickSize:-5, tickPadding:12, tickFormat: showY ? fmtTick : blank, label:null, fontSize:13}),
    Plot.axisY({anchor:"right", ticks:yTicks, tickSize:-5, tickFormat:blank, label:null})
  );
  return Plot.plot({
    width:geom.width, height:MT+FH+MB,
    marginTop:MT, marginBottom:MB, marginLeft:geom.ml, marginRight:geom.mr,
    x:{domain:xDomain}, y:{domain:[0,9]},
    style:{fontFamily:FONT, fontSize:"13px", background:"transparent", color:"#000", overflow:"visible"},
    marks
  });
}
function place(el, left, top) {
  el.style.position = "absolute"; el.style.left = left + "px"; el.style.top = top + "px";
  chart.appendChild(el);
}

rowTops.forEach((t, r) => {
  place(panel({data:leftData[r], colors:leftColors, widths:leftWidths, xDomain:[-7.2,7], xTicks:leftXTicks, showY:true, geom:L, curve:"monotone-x"}), L.left, t - MT);
  const rp = rightPanels[r];
  place(panel({data:rp.data, colors:rp.colors, widths:rp.data.map(() => 1.8), xDomain:[-1,1], xTicks:rightXTicks, showY:false, geom:R, curve:rp.curve}), R.left, t - MT);
});

// ---------- text overlay: titles, keys, axis labels ----------
function rich(textSel, str, size) {
  const segs = [], stack = []; let buf = "";
  const flush = () => { if (buf) { segs.push({text:buf, levels:stack.slice()}); buf = ""; } };
  for (let i = 0; i < str.length; i++) {
    const c = str[i];
    if ((c === "_" || c === "^") && str[i+1] === "{") { flush(); stack.push(c); i++; }
    else if (c === "}") { flush(); stack.pop(); }
    else buf += c;
  }
  flush();
  let prev = 0;
  for (const s of segs) {
    let off = 0, fs = size;
    for (const l of s.levels) { off += (l === "_" ? 0.25 : -0.38) * fs; fs *= 0.72; }
    textSel.append("tspan").attr("dy", (off - prev).toFixed(2)).attr("font-size", fs.toFixed(2)).text(s.text);
    prev = off;
  }
}
const ov = d3.create("svg").attr("width", 649).attr("height", 927)
  .style("position","absolute").style("left","0px").style("top","0px")
  .style("font-family", FONT).style("pointer-events","none");
chart.appendChild(ov.node());

const LX0 = L.left + L.ml, LX1 = L.left + L.width - L.mr;
const RX0 = R.left + R.ml, RX1 = R.left + R.width - R.mr;

rowTops.forEach((t, r) => {
  const tag = rowLetters[r], m = metals[r];
  // y label
  const yl = ov.append("text").attr("transform", `translate(19,${t + FH/2}) rotate(-90)`)
    .attr("text-anchor","middle").attr("font-size",15);
  rich(yl, "PDOS [States eV^{−1}]", 15);
  // titles
  [[LX1, 1], [RX1, 2]].forEach(([xr, k]) => {
    const tt = ov.append("text").attr("x", xr - 9).attr("y", t + 15).attr("text-anchor","end")
      .attr("font-weight","bold").attr("font-size",11.5);
    rich(tt, `(${tag}${k}) H_{2}@${m}−MOF`, 11.5);
  });
  // left key
  leftLabels(m).forEach((lab, i) => {
    const cy = t + 27 + i * 11.7;
    const tx = ov.append("text").attr("x", LX1 - 27).attr("y", cy + 4).attr("text-anchor","end").attr("font-size",11.5);
    rich(tx, lab, 11.5);
    ov.append("line").attr("x1", LX1 - 23).attr("x2", LX1 - 8).attr("y1", cy).attr("y2", cy)
      .attr("stroke", leftColors[i]).attr("stroke-width", leftWidths[i] + 0.3);
  });
  // right key
  const rp = rightPanels[r], k = rp.key;
  rp.labels.forEach((lab, i) => {
    const cy = t + k.first + i * k.step;
    const tx = ov.append("text").attr("x", k.textRight).attr("y", cy + 3.5).attr("text-anchor","end").attr("font-size",11.5);
    rich(tx, lab, 11.5);
    ov.append("line").attr("x1", k.line[0]).attr("x2", k.line[1]).attr("y1", cy).attr("y2", cy)
      .attr("stroke", rp.colors[i]).attr("stroke-width", 1.8);
  });
});
// x labels
[(LX0 + LX1) / 2, (RX0 + RX1) / 2].forEach(cx => {
  const xl = ov.append("text").attr("x", cx).attr("y", 919).attr("text-anchor","middle").attr("font-size",15);
  rich(xl, "E−E_{F} [eV]", 15);
});
</script></body></html>
